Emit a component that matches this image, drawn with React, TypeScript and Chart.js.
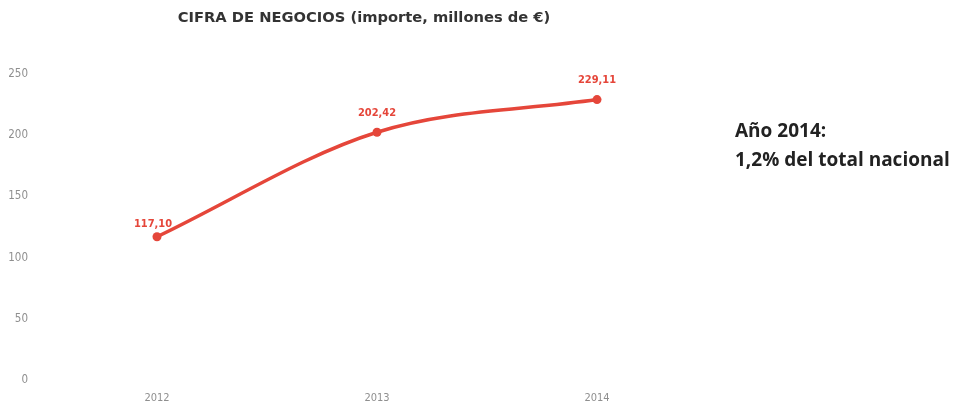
import React, { useEffect, useRef } from "react";
import { Chart, registerables } from "chart.js";

Chart.register(...registerables);

const categories = ["2012", "2013", "2014"];
const values = [117.1, 202.42, 229.11];
const valueLabels = ["117,10", "202,42", "229,11"];
const titleText = "CIFRA DE NEGOCIOS (importe, millones de €)";
const noteLines = ["Año 2014:", "1,2% del total nacional"];

const RED = "#e5463a";

export default function App() {
  const ref = useRef<HTMLCanvasElement | null>(null);

  useEffect(() => {
    document.body.style.margin = "0";
    const canvas = ref.current;
    if (!canvas) return;

    const textPlugin = {
      id: "texts",
      afterDraw(chart: any) {
        const ctx = chart.ctx;
        ctx.save();
        // title
        ctx.fillStyle = "#333333";
        ctx.font = "bold 14.7px 'DejaVu Sans', Verdana, sans-serif";
        ctx.textAlign = "center";
        ctx.textBaseline = "middle";
        ctx.fillText(titleText, 364, 18);
        // side note
        ctx.fillStyle = "#222222";
        ctx.font = "bold 19px 'Open Sans', Lato, sans-serif";
        ctx.textAlign = "left";
        ctx.textBaseline = "middle";
        ctx.fillText(noteLines[0], 735, 132);
        ctx.fillText(noteLines[1], 735, 161);
        // data labels
        const meta = chart.getDatasetMeta(0);
        ctx.fillStyle = RED;
        ctx.font = "bold 11px 'DejaVu Sans Condensed', 'DejaVu Sans', sans-serif";
        ctx.textAlign = "center";
        ctx.textBaseline = "middle";
        meta.data.forEach((pt: any, i: number) => {
          const dy = i === 0 ? 13 : 19;
          ctx.fillText(valueLabels[i], pt.x - (i === 0 ? 4 : 0), pt.y - dy);
        });
        ctx.restore();
      },
    };

    const chart = new Chart(canvas, {
      type: "line",
      data: {
        labels: categories,
        datasets: [
          {
            data: values,
            borderColor: RED,
            backgroundColor: RED,
            borderWidth: 3.5,
            pointRadius: 4.5,
            pointHoverRadius: 4.5,
            pointBackgroundColor: RED,
            pointBorderWidth: 0,
            cubicInterpolationMode: "monotone",
            fill: false,
          },
        ],
      },
      options: {
        responsive: false,
        animation: false,
        layout: { padding: { left: 0, right: 247, top: 74, bottom: 0 } },
        plugins: {
          legend: { display: false },
          tooltip: { enabled: false },
          title: { display: false },
        },
        scales: {
          x: {
            offset: true,
            grid: { display: false, drawTicks: false },
            border: { display: false },
            ticks: {
              color: "#8f8f8f",
              font: { family: "'DejaVu Sans Condensed', 'DejaVu Sans', sans-serif", size: 11 },
              padding: 11,
            },
            afterFit: (s: any) => {
              s.height = 25;
            },
          },
          y: {
            min: 0,
            max: 250,
            grid: { display: false, drawTicks: false },
            border: { display: false },
            ticks: {
              stepSize: 50,
              color: "#8f8f8f",
              font: { family: "'DejaVu Sans Condensed', 'DejaVu Sans', sans-serif", size: 11.5 },
              padding: 19,
            },
            afterFit: (s: any) => {
              s.width = 47;
            },
          },
        },
      },
      plugins: [textPlugin],
    });

    return () => chart.destroy();
  }, []);

  return (
    <div style={{ width: 954, height: 406, background: "#ffffff" }}>
      <canvas ref={ref} width={954} height={406} style={{ display: "block" }} />
    </div>
  );
}
